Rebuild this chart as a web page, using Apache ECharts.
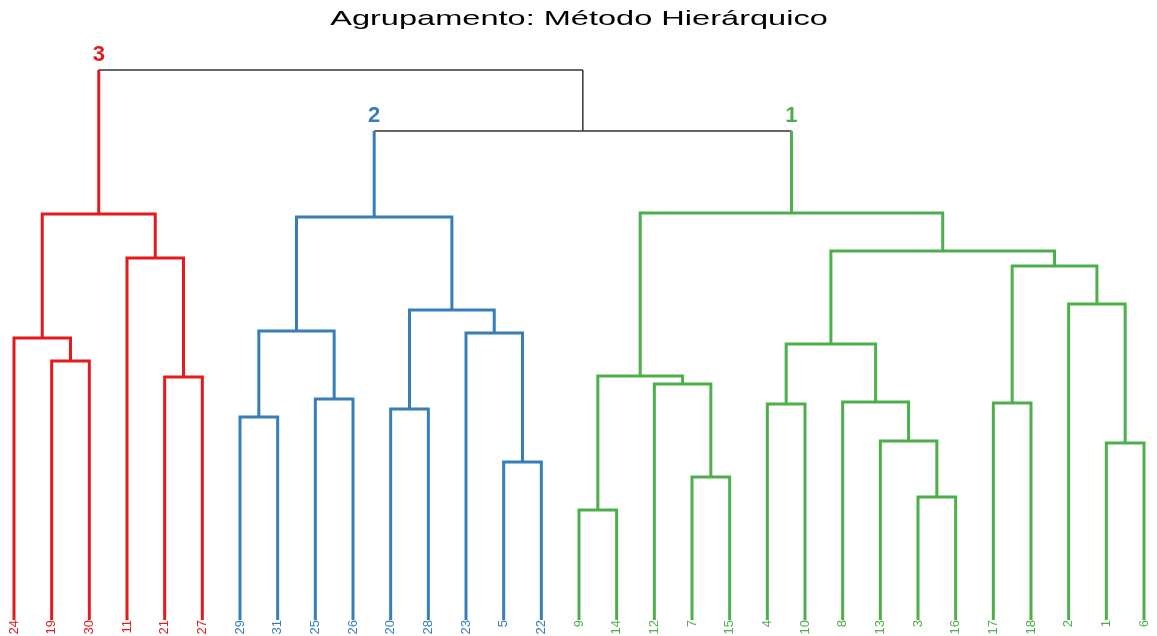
<!DOCTYPE html>
<html>
<head>
<meta charset="utf-8">
<script src="https://cdn.jsdelivr.net/npm/echarts@6/dist/echarts.min.js"></script>
<style>
  html, body { margin: 0; padding: 0; background: #ffffff; }
  #chart { width: 1157px; height: 636px; }
</style>
</head>
<body>
<div id="chart"></div>
<script>
// Hierarchical clustering result, hclust style:
// negative entries are observation numbers, positive entries point to an earlier merge row (1-based).
const mergeLeft   = [-9, -3, -7, -5, -1, -13, -29, -20, -4, -17, -8, -25, -12, -21, 1, -19, 9, -24, -23, 7, 8, -2, 10, -11, 17, 20, 18, 15, 26, 27];
const mergeRight  = [-14, -16, -15, -22, -6, 2, -31, -28, -10, -18, 6, -26, 3, -27, 13, -30, 11, 16, 4, 12, 19, 5, 22, 14, 23, 21, 24, 25, 28, 29];
const mergeHeight = [2.20, 2.46, 2.86, 3.16, 3.54, 3.58, 4.06, 4.22, 4.32, 4.34, 4.36, 4.42, 4.72, 4.86, 4.88, 5.18, 5.52, 5.64, 5.74, 5.78, 6.20, 6.32, 7.08, 7.24, 7.38, 8.06, 8.12, 8.14, 9.78, 11.00];

// Number of groups the tree is cut into, and one colour per group (group 1, 2, 3)
const k = 3;
const groupColors = ['#4DAF4A', '#377EB8', '#E41A1C'];
const linkColor = '#333333';
const titleText = 'Agrupamento: Método Hierárquico';

const nMerge = mergeHeight.length;

// Leaf order: depth-first walk from the final merge, left branch first
const order = [];
function walk(id) {
  if (id < 0) { order.push(-id); return; }
  walk(mergeLeft[id - 1]);
  walk(mergeRight[id - 1]);
}
walk(nMerge);
const leafPos = {};
order.forEach((obs, i) => { leafPos[obs] = i; });

function nodeX(id) {
  return id < 0 ? leafPos[-id] : (nodeX(mergeLeft[id - 1]) + nodeX(mergeRight[id - 1])) / 2;
}
function nodeH(id) { return id < 0 ? 0 : mergeHeight[id - 1]; }
function leavesOf(id) {
  return id < 0 ? [-id] : leavesOf(mergeLeft[id - 1]).concat(leavesOf(mergeRight[id - 1]));
}

// Cut into k groups: the last k-1 merges lie above the cut
const cutRows = new Set();
for (let r = nMerge - k + 2; r <= nMerge; r++) cutRows.add(r);
const heads = [];
const headParentH = {};
cutRows.forEach(r => {
  [mergeLeft[r - 1], mergeRight[r - 1]].forEach(c => {
    if (!cutRows.has(c)) { heads.push(c); headParentH[c] = mergeHeight[r - 1]; }
  });
});
// Groups numbered by their smallest observation, as cutree does
heads.sort((a, b) => Math.min(...leavesOf(a)) - Math.min(...leavesOf(b)));
const groupOf = {};
function mark(id, g) {
  groupOf[id] = g;
  if (id > 0) { mark(mergeLeft[id - 1], g); mark(mergeRight[id - 1], g); }
}
heads.forEach((h, g) => mark(h, g));
function colorOf(id) { return (id in groupOf) ? groupColors[groupOf[id]] : linkColor; }

// Elbow links: inside a group one polyline per merge; above the cut the
// horizontal bar and the two child verticals carry different colours.
const segments = [];
function pushLink(coords, color) {
  segments.push({
    coords: coords,
    lineStyle: { color: color, width: color === linkColor ? 1.5 : 3 }
  });
}
for (let r = 1; r <= nMerge; r++) {
  const a = mergeLeft[r - 1], b = mergeRight[r - 1], h = mergeHeight[r - 1];
  const xa = nodeX(a), xb = nodeX(b);
  if (!cutRows.has(r)) {
    pushLink([[xa, nodeH(a)], [xa, h], [xb, h], [xb, nodeH(b)]], colorOf(r));
  } else {
    pushLink([[xa, h], [xb, h]], colorOf(r));
    pushLink([[xa, nodeH(a)], [xa, h]], colorOf(a));
    pushLink([[xb, nodeH(b)], [xb, h]], colorOf(b));
  }
}

// Group number written above each group's top branch
const groupLabels = heads.map((h, g) => ({
  value: [nodeX(h), headParentH[h]],
  label: { color: groupColors[g], formatter: String(g + 1) }
}));

const richLeaf = {};
groupColors.forEach((c, g) => {
  richLeaf['g' + g] = { color: c, fontSize: 13, fontFamily: '"Liberation Sans", Arial, sans-serif' };
});

const chart = echarts.init(document.getElementById('chart'), null, { renderer: 'canvas' });
chart.setOption({
  backgroundColor: '#ffffff',
  animation: false,
  graphic: [{
    type: 'text',
    x: 579,
    y: 19,
    scaleX: 1.55,
    style: {
      text: titleText,
      font: '21px "Liberation Sans", Arial, sans-serif',
      fill: '#000000',
      align: 'center',
      verticalAlign: 'middle',
      textAlign: 'center',
      textVerticalAlign: 'middle'
    }
  }],
  grid: { left: 14, right: 13, top: 20, bottom: 16, containLabel: false, outerBoundsMode: 'none' },
  xAxis: {
    type: 'value',
    min: 0,
    max: order.length - 1,
    interval: 1,
    axisLine: { show: false },
    axisTick: { show: false },
    splitLine: { show: false },
    axisLabel: {
      rotate: 90,
      margin: 0,
      showMinLabel: true,
      showMaxLabel: true,
      formatter: v => {
        const obs = order[Math.round(v)];
        return '{g' + groupOf[-obs] + '|' + obs + '}';
      },
      rich: richLeaf
    }
  },
  yAxis: { type: 'value', min: 0, max: 12, show: false },
  series: [
    {
      type: 'lines',
      coordinateSystem: 'cartesian2d',
      polyline: true,
      clip: false,
      silent: true,
      lineStyle: { cap: 'butt', join: 'miter', opacity: 1 },
      data: segments
    },
    {
      type: 'scatter',
      symbolSize: 0,
      silent: true,
      clip: false,
      itemStyle: { opacity: 1 },
      label: {
        show: true,
        position: 'top',
        distance: 4,
        opacity: 1,
        fontSize: 22,
        fontWeight: 'bold',
        fontFamily: '"Liberation Sans", Arial, sans-serif'
      },
      data: groupLabels
    }
  ]
});
</script>
</body>
</html>
